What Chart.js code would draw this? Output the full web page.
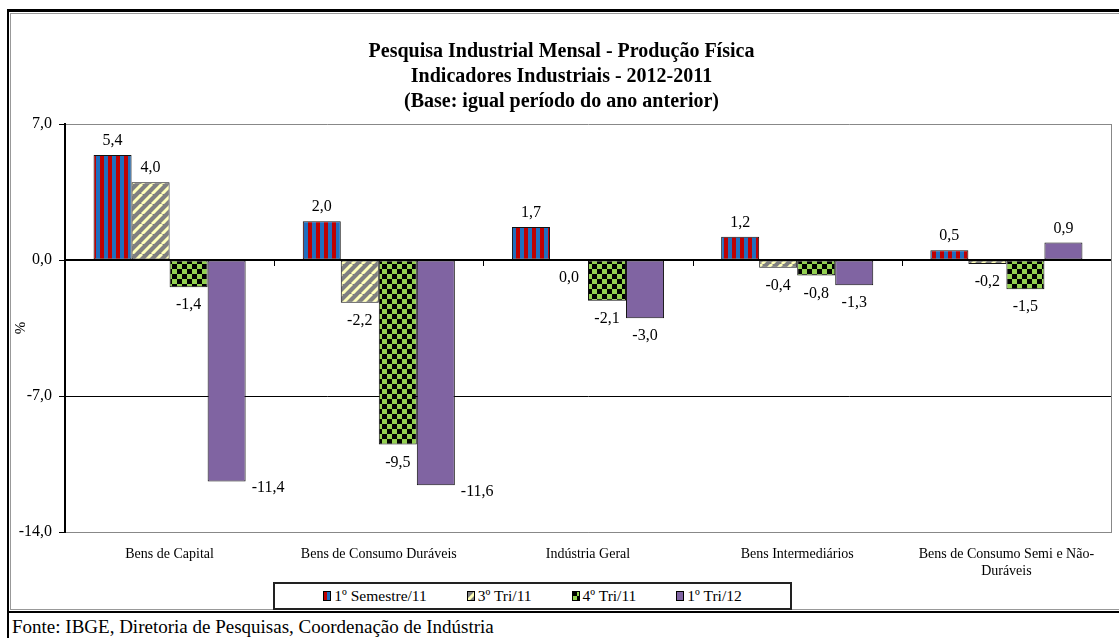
<!DOCTYPE html>
<html lang="pt">
<head>
    <meta charset="UTF-8">
    <title>Pesquisa Industrial Mensal - Produção Física</title>
    <style>
        body {
            margin: 0;
            background: #fff;
            font-family: "Liberation Serif", serif;
            overflow: hidden;
        }
        .frame-outer {
            position: absolute;
            left: 7px; top: 9px;
            width: 1200px; height: 700px;
            border-left: 2px solid #000;
            border-top: 3px solid #000;
        }
        .frame-inner {
            position: absolute;
            left: 10px; top: 13px;
            width: 1200px; height: 595px;
            border-left: 1px solid #999;
            border-top: 1px solid #999;
            border-bottom: 1px solid #999;
        }
        .frame-bottom {
            position: absolute;
            left: 7px; top: 611px;
            width: 1200px; height: 0;
            border-top: 2px solid #000;
        }
        #chart-box {
            position: absolute;
            left: 12px; top: 14px;
            width: 1107px; height: 594px;
        }
        #legend {
            position: absolute;
            left: 273px; top: 582px;
            width: 519px; height: 28px;
            box-sizing: border-box;
            border: 2px solid #222;
            background: #fff;
            display: flex;
            align-items: center;
            justify-content: center;
            gap: 40px;
            font-family: "Liberation Serif", serif;
            font-size: 15.5px;
        }
        #legend span { display: inline-flex; align-items: center; }
        #legend canvas { margin-right: 3px; }
        #fonte {
            position: absolute;
            left: 12px; top: 616px;
            font-family: "Liberation Serif", serif;
            font-size: 19px;
        }
    </style>
</head>
<body>
<div class="frame-outer"></div>
<div class="frame-inner"></div>
<div class="frame-bottom"></div>
<div id="chart-box">
    <canvas id="pimChart" width="1107" height="594"></canvas>
</div>
<div id="legend"></div>
<div id="fonte">Fonte: IBGE, Diretoria de Pesquisas, Coordenação de Indústria</div>

<script src="https://cdn.jsdelivr.net/npm/chart.js"></script>
<script>
    // dados
    const categories = ['Bens de Capital', 'Bens de Consumo Duráveis', 'Indústria Geral', 'Bens Intermediários', ['Bens de Consumo Semi e Não-', 'Duráveis']];
    const seriesNames = ['1º Semestre/11', '3º Tri/11', '4º Tri/11', '1º Tri/12'];
    const semestre1_11 = [5.4, 2.0, 1.7, 1.2, 0.5];
    const tri3_11 = [4.0, -2.2, 0.0, -0.4, -0.2];
    const tri4_11 = [-1.4, -9.5, -2.1, -0.8, -1.5];
    const tri1_12 = [-11.4, -11.6, -3.0, -1.3, 0.9];
    const yTicks = [7, 0, -7, -14];

    const FONT = '"Liberation Serif", serif';

    function fmt(v) {
        return v.toFixed(1).replace('.', ',');
    }

    // padrões de preenchimento (estilo Excel)
    function makePattern(w, h, paint) {
        const c = document.createElement('canvas');
        c.width = w; c.height = h;
        paint(c.getContext('2d'));
        return c.getContext('2d').createPattern(c, 'repeat');
    }
    const stripes = makePattern(8, 8, g => {
        g.fillStyle = '#C00000'; g.fillRect(0, 0, 8, 8);
        g.fillStyle = '#1F6FBF'; g.fillRect(4, 0, 4, 8);
    });
    const diagonal = makePattern(10, 10, g => {
        g.fillStyle = '#808080'; g.fillRect(0, 0, 10, 10);
        g.strokeStyle = '#FFFFB8'; g.lineWidth = 3;
        [0, 10, 20].forEach(k => {
            g.beginPath(); g.moveTo(k - 10, 10); g.lineTo(k, 0); g.stroke();
        });
    });
    const checker = makePattern(10, 10, g => {
        g.fillStyle = '#92D050'; g.fillRect(0, 0, 10, 10);
        g.fillStyle = '#000'; g.fillRect(0, 0, 5, 5); g.fillRect(5, 5, 5, 5);
    });
    const fills = [stripes, diagonal, checker, '#8064A2'];
    const values = [semestre1_11, tri3_11, tri4_11, tri1_12];

    const datasets = seriesNames.map((name, i) => ({
        label: name,
        data: values[i],
        backgroundColor: fills[i],
        borderColor: '#111',
        borderWidth: 1,
        borderSkipped: false,
        categoryPercentage: 0.727,
        barPercentage: 1
    }));

    // rótulos de dados
    const valueLabels = {
        id: 'valueLabels',
        afterDatasetsDraw(chart) {
            const ctx = chart.ctx;
            ctx.save();
            ctx.font = '16px ' + FONT;
            ctx.fillStyle = '#000';
            chart.data.datasets.forEach((ds, di) => {
                chart.getDatasetMeta(di).data.forEach((bar, i) => {
                    const v = ds.data[i];
                    const t = fmt(v);
                    if (v > 0) {
                        ctx.textAlign = 'center'; ctx.textBaseline = 'alphabetic';
                        ctx.fillText(t, bar.x, bar.y - 10);
                    } else if (v < -10) {
                        ctx.textAlign = 'left'; ctx.textBaseline = 'middle';
                        ctx.fillText(t, bar.x + bar.width / 2 + 6, bar.y + 6);
                    } else {
                        ctx.textAlign = 'center'; ctx.textBaseline = 'middle';
                        ctx.fillText(t, bar.x, Math.max(bar.y, bar.base) + 18);
                    }
                });
            });
            ctx.restore();
        }
    };

    // borda direita da área de plotagem e marcas no eixo zero
    const plotFrame = {
        id: 'plotFrame',
        afterDraw(chart) {
            const ctx = chart.ctx;
            const a = chart.chartArea;
            const xs = chart.scales.x;
            const y0 = chart.scales.y.getPixelForValue(0);
            ctx.save();
            ctx.strokeStyle = '#888';
            ctx.lineWidth = 1;
            ctx.beginPath();
            ctx.moveTo(a.right + 0.5, a.top);
            ctx.lineTo(a.right + 0.5, a.bottom);
            ctx.stroke();
            ctx.strokeStyle = '#000';
            ctx.lineWidth = 2;
            ctx.beginPath();
            ctx.moveTo(a.left, y0);
            ctx.lineTo(a.right, y0);
            ctx.stroke();
            ctx.lineWidth = 1;
            ctx.beginPath();
            for (let k = 1; k < categories.length; k++) {
                const x = Math.round((xs.getPixelForValue(k - 1) + xs.getPixelForValue(k)) / 2) + 0.5;
                ctx.moveTo(x, y0);
                ctx.lineTo(x, y0 + 6);
            }
            ctx.stroke();
            ctx.restore();
        }
    };

    const pimChart = new Chart(document.getElementById('pimChart'), {
        type: 'bar',
        data: { labels: categories, datasets: datasets },
        options: {
            responsive: false,
            animation: false,
            layout: { padding: { left: 0, right: 8, top: 0, bottom: 0 } },
            plugins: {
                legend: { display: false },
                tooltip: { enabled: false },
                title: {
                    display: true,
                    text: ['Pesquisa Industrial Mensal - Produção Física',
                           'Indicadores Industriais - 2012-2011',
                           '(Base: igual período do ano anterior)'],
                    color: '#000',
                    font: { family: FONT, size: 20, weight: 'bold', lineHeight: 1.25 },
                    padding: { top: 25, bottom: 10 }
                }
            },
            scales: {
                x: {
                    grid: { display: false, drawTicks: false },
                    border: { display: true, color: '#888', width: 1 },
                    ticks: {
                        color: '#000',
                        padding: 14,
                        maxRotation: 0,
                        autoSkip: false,
                        font: { family: FONT, size: 14 }
                    },
                    afterFit(s) { s.height = 76; }
                },
                y: {
                    min: -14,
                    max: 7,
                    afterBuildTicks(s) { s.ticks = yTicks.map(v => ({ value: v })); },
                    grid: {
                        color: c => (c.tick && (c.tick.value === -7 || c.tick.value === 0)) ? '#000' : '#888',
                        lineWidth: 1,
                        tickColor: '#000',
                        tickLength: 6
                    },
                    border: { color: '#000', width: 2 },
                    ticks: {
                        color: '#000',
                        padding: 7,
                        font: { family: FONT, size: 16 },
                        callback: v => fmt(v)
                    },
                    title: {
                        display: true,
                        text: '%',
                        color: '#000',
                        font: { family: FONT, size: 15 },
                        padding: { top: 0, bottom: 0 }
                    },
                    afterFit(s) { s.width = 53; }
                }
            }
        },
        plugins: [valueLabels, plotFrame]
    });

    // legenda
    const legend = document.getElementById('legend');
    pimChart.data.datasets.forEach(ds => {
        const item = document.createElement('span');
        const sw = document.createElement('canvas');
        sw.width = 8; sw.height = 10;
        const g = sw.getContext('2d');
        g.fillStyle = ds.backgroundColor;
        g.fillRect(0, 0, 8, 10);
        g.strokeStyle = '#000';
        g.strokeRect(0.5, 0.5, 7, 9);
        item.appendChild(sw);
        item.appendChild(document.createTextNode(ds.label));
        legend.appendChild(item);
    });
</script>
</body>
</html>
